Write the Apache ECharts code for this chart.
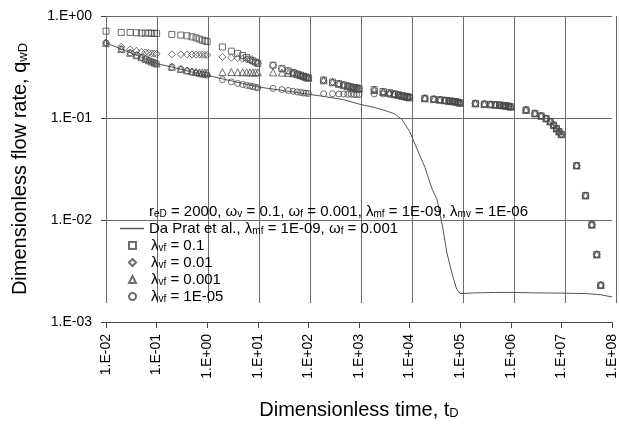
<!DOCTYPE html>
<html><head><meta charset="utf-8">
<script src="https://cdn.jsdelivr.net/npm/echarts@6/dist/echarts.min.js"></script>
<style>html,body{margin:0;padding:0;background:#fff}#c{width:619px;height:425px}</style>
</head><body><div id="c"></div>
<script>
// Sample times (dimensionless time tD)
const times = [0.01,
  0.02,0.03,0.04,0.05,0.06,0.07,0.08,0.09,0.1,
  0.2,0.3,0.4,0.5,0.6,0.7,0.8,0.9,1,
  2,3,4,5,6,7,8,9,10,
  20,30,40,50,60,70,80,90,100,
  200,300,400,500,600,700,800,900,1000,
  2000,3000,4000,5000,6000,7000,8000,9000,10000,
  2e4,3e4,4e4,5e4,6e4,7e4,8e4,9e4,1e5,
  2e5,3e5,4e5,5e5,6e5,7e5,8e5,9e5,1e6,
  2e6,3e6,4e6,5e6,6e6,7e6,8e6,9e6,1e7,
  2e7,3e7,4e7,5e7,6e7];

// lambda_vf = 0.1 (squares)
const qSquare = [0.71,
  0.69,0.69,0.685,0.68,0.68,0.68,0.678,0.676,0.675,
  0.66,0.65,0.64,0.625,0.61,0.595,0.58,0.57,0.56,
  0.497,0.452,0.43,0.41,0.392,0.377,0.363,0.353,0.343,
  0.33,0.305,0.29,0.279,0.27,0.263,0.257,0.252,0.248,
  0.236,0.225,0.217,0.211,0.206,0.202,0.199,0.197,0.195,
  0.19,0.182,0.177,0.173,0.169,0.166,0.164,0.162,0.16,
  0.156,0.153,0.151,0.149,0.147,0.146,0.145,0.143,0.141,
  0.139,0.137,0.136,0.135,0.134,0.133,0.132,0.131,0.129,
  0.12,0.111,0.105,0.099,0.0925,0.0853,0.079,0.0737,0.0693,
  0.0342,0.0174,0.009,0.0046,0.0023];

// lambda_vf = 0.01 (diamonds)
const qDiamond = [0.545,
  0.50,0.47,0.455,0.445,0.44,0.435,0.43,0.428,0.425,
  0.42,0.42,0.42,0.419,0.418,0.418,0.417,0.416,0.415,
  0.397,0.39,0.387,0.381,0.376,0.368,0.36,0.353,0.345,
  0.328,0.303,0.289,0.278,0.27,0.263,0.257,0.252,0.248,
  0.235,0.225,0.217,0.211,0.206,0.202,0.199,0.197,0.195,
  0.189,0.181,0.176,0.172,0.169,0.166,0.164,0.162,0.16,
  0.156,0.153,0.151,0.149,0.147,0.146,0.145,0.143,0.141,
  0.139,0.137,0.136,0.135,0.134,0.133,0.132,0.131,0.129,
  0.12,0.111,0.105,0.099,0.0925,0.0853,0.079,0.0737,0.0693,
  0.0342,0.0174,0.009,0.0046,0.0023];

// lambda_vf = 0.001 (triangles)
const qTriangle = [0.545,
  0.474,0.436,0.412,0.394,0.38,0.368,0.358,0.35,0.342,
  0.318,0.303,0.293,0.287,0.283,0.28,0.279,0.278,0.278,
  0.282,0.282,0.281,0.281,0.281,0.28,0.28,0.28,0.28,
  0.28,0.279,0.277,0.274,0.269,0.263,0.257,0.252,0.248,
  0.234,0.224,0.216,0.21,0.205,0.201,0.198,0.196,0.194,
  0.188,0.18,0.175,0.171,0.168,0.165,0.163,0.161,0.159,
  0.156,0.153,0.151,0.149,0.147,0.146,0.145,0.143,0.141,
  0.139,0.137,0.136,0.135,0.134,0.133,0.132,0.131,0.129,
  0.12,0.111,0.105,0.099,0.0925,0.0853,0.079,0.0737,0.0693,
  0.0342,0.0174,0.009,0.0046,0.0023];

// lambda_vf = 1E-05 (circles)
const qCircle = [0.545,
  0.474,0.436,0.412,0.394,0.38,0.368,0.358,0.35,0.342,
  0.316,0.301,0.29,0.282,0.276,0.271,0.267,0.265,0.263,
  0.238,0.226,0.218,0.213,0.209,0.206,0.203,0.2,0.198,
  0.195,0.19,0.186,0.183,0.18,0.178,0.176,0.175,0.174,
  0.173,0.173,0.172,0.172,0.171,0.171,0.17,0.17,0.17,
  0.172,0.172,0.171,0.17,0.168,0.166,0.164,0.162,0.16,
  0.156,0.153,0.151,0.149,0.147,0.146,0.145,0.143,0.141,
  0.139,0.137,0.136,0.135,0.134,0.133,0.132,0.131,0.129,
  0.12,0.111,0.105,0.099,0.0925,0.0853,0.079,0.0737,0.0693,
  0.0342,0.0174,0.009,0.0046,0.0023];

// Da Prat et al. curve
const tLine = [0.01,0.02,0.05,0.1,0.2,0.5,1,2,5,10,20,50,100,200,500,1000,2000,3000,5000,7000,
  10000,14000,20000,28000,35000,45000,55000,70000,85000,100000,200000,500000,1e6,3e6,1e7,3e7,6e7,1e8];
const qLine = [0.545,0.474,0.394,0.342,0.316,0.282,0.263,0.242,0.218,0.202,0.192,0.18,0.171,0.163,0.151,0.137,0.127,0.12,0.11,0.097,
  0.074,0.05,0.033,0.02,0.0158,0.0085,0.0047,0.0029,0.0021,0.0019,0.00193,0.00195,0.00195,0.00193,0.00192,0.0019,0.00185,0.00176];

const xTickLabels = ['1.E-02','1.E-01','1.E+00','1.E+01','1.E+02','1.E+03','1.E+04','1.E+05','1.E+06','1.E+07','1.E+08'];
const yTickLabels = ['1.E-03','1.E-02','1.E-01','1.E+00'];

const legendText = {
  params: 'r{s|eD} = 2000, ω{s|v} = 0.1, ω{s|f} = 0.001, λ{s|mf} = 1E-09, λ{s|mv} = 1E-06',
  daprat: 'Da Prat et al., λ{s|mf} = 1E-09, ω{s|f} = 0.001',
  sq: 'λ{s|vf} = 0.1',
  di: 'λ{s|vf} = 0.01',
  tr: 'λ{s|vf} = 0.001',
  ci: 'λ{s|vf} = 1E-05'
};

const pairs = (xs, ys) => xs.map((x, i) => [x, ys[i]]);
const FONT = '"Liberation Sans", Arial, sans-serif';
const gridColor = '#6a6a6a';
const mk = '#4a4a4a';

const chart = echarts.init(document.getElementById('c'), null, {renderer: 'canvas'});
const markerStyle = {color: 'rgba(0,0,0,0)', borderColor: mk, borderWidth: 1};
const legendRich = {s: {fontSize: 10, fontFamily: FONT, color: '#000', lineHeight: 11, padding: [6, 0, 0, 0]}};

chart.setOption({
  animation: false,
  backgroundColor: '#fff',
  textStyle: {fontFamily: FONT},
  grid: [
    {left: 106, right: 3, top: 16, bottom: 103},
    {left: 106, right: 3, top: 16, bottom: 122}
  ],
  xAxis: [
    {
      type: 'log', logBase: 10, min: 0.01, max: 1e8, interval: 1, splitNumber: 10, gridIndex: 0,
      axisLine: {show: true, lineStyle: {color: '#444', width: 1}},
      axisTick: {show: true, length: 6, lineStyle: {color: '#444'}},
      axisLabel: {rotate: 90, margin: 12, fontSize: 14, color: '#000', fontFamily: FONT, showMinLabel: true, showMaxLabel: true,
        formatter: v => xTickLabels[Math.round(Math.log10(v)) + 2]},
      splitLine: {show: false},
      name: '{m|Dimensionless time, t}{s|D}', nameLocation: 'middle', nameGap: 78,
      nameTextStyle: {color: '#000', fontFamily: FONT, fontSize: 20,
        rich: {m: {fontSize: 20, fontFamily: FONT, color: '#000', lineHeight: 20},
               s: {fontSize: 13, fontFamily: FONT, color: '#000', lineHeight: 13, padding: [7, 0, 0, 0]}}}
    },
    {
      type: 'log', logBase: 10, min: 0.01, max: 1e8, interval: 1, splitNumber: 10, gridIndex: 1,
      axisLine: {show: false}, axisTick: {show: false}, axisLabel: {show: false},
      splitLine: {show: true, showMinLine: true, showMaxLine: true, lineStyle: {color: gridColor, width: 1}}
    }
  ],
  yAxis: [
    {
      type: 'log', logBase: 10, min: 0.001, max: 1, interval: 1, splitNumber: 3, gridIndex: 0,
      axisLine: {show: false},
      axisTick: {show: true, length: 5, lineStyle: {color: '#444'}},
      axisLabel: {fontSize: 14, margin: 14, color: '#000', fontFamily: FONT,
        formatter: v => yTickLabels[Math.round(Math.log10(v)) + 3]},
      splitLine: {show: true, lineStyle: {color: gridColor, width: 1}},
      name: '{m|Dimensionless flow rate, q}{s|wD}', nameLocation: 'middle', nameRotate: 90, nameGap: 76,
      nameTextStyle: {color: '#000', fontFamily: FONT, fontSize: 20,
        rich: {m: {fontSize: 20, fontFamily: FONT, color: '#000', lineHeight: 20},
               s: {fontSize: 13, fontFamily: FONT, color: '#000', lineHeight: 13, padding: [7, 0, 0, 0]}}}
    },
    {type: 'value', gridIndex: 1, min: 0, max: 1, show: false}
  ],
  legend: [
    {
      orient: 'vertical', left: 120, top: 203, padding: 0, itemGap: 0,
      itemWidth: 24, itemHeight: 1.5, selectedMode: false,
      formatter: name => legendText[name],
      textStyle: {fontSize: 15, color: '#000', fontFamily: FONT, lineHeight: 17, rich: legendRich},
      data: [
        {name: 'params', icon: 'none'},
        {name: 'daprat', icon: 'rect', itemStyle: {color: '#555', borderWidth: 0}}
      ]
    },
    {
      orient: 'vertical', left: 128, top: 237, padding: 0, itemGap: 0,
      itemWidth: 7, itemHeight: 7, selectedMode: false,
      formatter: name => legendText[name],
      textStyle: {fontSize: 15, color: '#000', fontFamily: FONT, lineHeight: 17, padding: [0, 0, 0, 10], rich: legendRich},
      data: [{name: 'sq'}, {name: 'di'}, {name: 'tr'}, {name: 'ci'}]
    }
  ],
  series: [
    {name: 'params', type: 'line', data: [], xAxisIndex: 0, yAxisIndex: 0},
    {name: 'daprat', type: 'line', data: pairs(tLine, qLine), xAxisIndex: 0, yAxisIndex: 0,
      symbol: 'none', smooth: false, lineStyle: {color: '#555', width: 1}, itemStyle: {color: '#555'}, z: 2},
    {name: 'sq', type: 'scatter', symbol: 'rect', symbolSize: 6, data: pairs(times, qSquare), itemStyle: markerStyle, z: 3},
    {name: 'di', type: 'scatter', symbol: 'diamond', symbolSize: 7, data: pairs(times, qDiamond), itemStyle: markerStyle, z: 3},
    {name: 'tr', type: 'scatter', symbol: 'triangle', symbolSize: 7, data: pairs(times, qTriangle), itemStyle: markerStyle, z: 3},
    {name: 'ci', type: 'scatter', symbol: 'circle', symbolSize: 6, data: pairs(times, qCircle), itemStyle: markerStyle, z: 3}
  ]
});
</script></body></html>
